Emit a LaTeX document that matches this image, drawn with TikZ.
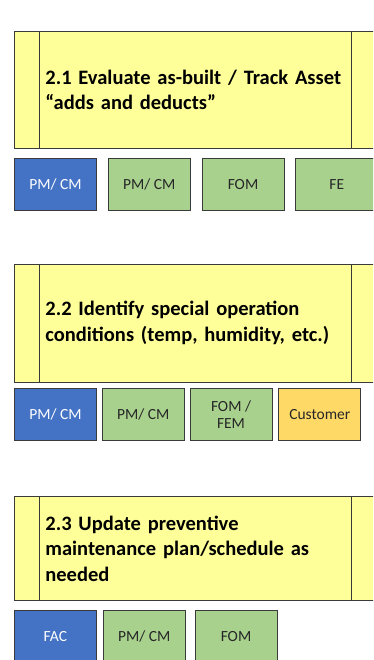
\documentclass[tikz,border=0pt]{standalone}
\usepackage{fontspec}
\setmainfont{Carlito}
\usepackage{tikz}
\usetikzlibrary{positioning}

\definecolor{procyellow}{HTML}{FFFF99}
\definecolor{roleblue}{HTML}{4472C4}
\definecolor{rolegreen}{HTML}{A9D18E}
\definecolor{roleorange}{HTML}{FFD966}
\definecolor{edgegray}{HTML}{3A3A3A}

\begin{document}
\begin{tikzpicture}[
    x=1pt, y=1pt,
    procbox/.style={draw=edgegray, line width=0.8pt, fill=procyellow, rectangle,
        anchor=north west, text width=300pt, inner xsep=31pt, align=left,
        font=\fontsize{20.5}{25.5}\selectfont\bfseries,
        path picture={
            \draw[edgegray, line width=0.8pt]
                ([xshift=25pt]path picture bounding box.north west) --
                ([xshift=25pt]path picture bounding box.south west);
            \draw[edgegray, line width=0.8pt]
                ([xshift=-25pt]path picture bounding box.north east) --
                ([xshift=-25pt]path picture bounding box.south east);
        }},
    rolebox/.style={draw=edgegray, line width=0.8pt, rectangle, minimum width=82pt,
        minimum height=52pt, inner sep=1pt, align=center,
        font=\fontsize{15.5}{17}\selectfont},
    blue/.style={rolebox, fill=roleblue, text=white},
    green/.style={rolebox, fill=rolegreen, text=black!85},
    orange/.style={rolebox, fill=roleorange, text=black!85}
]

    \clip (0,0) rectangle (373,-660);

    % Step 2.1
    \node (proc1) [procbox, minimum height=117pt] at (14,-31)
        {2.1 Evaluate as-built / Track Asset\\``adds and deducts''};

    % Roles for 2.1
    \node (r1a) [blue, below right=9pt and 0pt of proc1.south west] {PM/ CM};
    \node (r1b) [green, right=11pt of r1a] {PM/ CM};
    \node (r1c) [green, right=11pt of r1b] {FOM};
    \node (r1d) [green, right=11pt of r1c] {FE};

    % Step 2.2
    \node (proc2) [procbox, minimum height=118pt, below right=53pt and 0pt of r1a.south west]
        {2.2 Identify special operation\\conditions (temp, humidity, etc.)};

    % Roles for 2.2
    \node (r2a) [blue, below right=6pt and 0pt of proc2.south west] {PM/ CM};
    \node (r2b) [green, right=5pt of r2a] {PM/ CM};
    \node (r2c) [green, right=5pt of r2b] {FOM /\\FEM};
    \node (r2d) [orange, right=6pt of r2c] {Customer};

    % Step 2.3
    \node (proc3) [procbox, minimum height=104pt, below right=55pt and 0pt of r2a.south west]
        {2.3 Update preventive\\maintenance plan/schedule as\\needed};

    % Roles for 2.3
    \node (r3a) [blue, below right=9pt and 0pt of proc3.south west] {FAC};
    \node (r3b) [green, right=6pt of r3a] {PM/ CM};
    \node (r3c) [green, right=9pt of r3b] {FOM};

\end{tikzpicture}
\end{document}
